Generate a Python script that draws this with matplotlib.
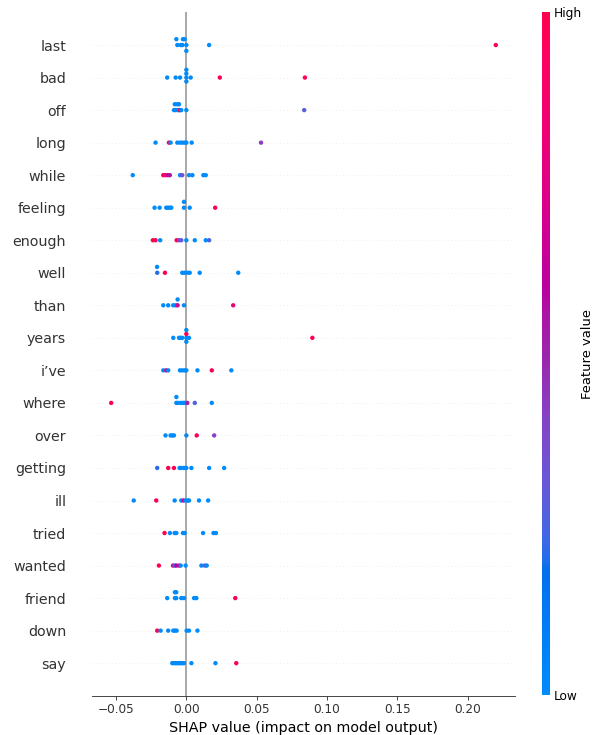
import numpy as np
import matplotlib
matplotlib.use("Agg")
import matplotlib.pyplot as plt
from matplotlib.colors import LinearSegmentedColormap
from matplotlib.cm import ScalarMappable

# ---------------- data ----------------
features = ["last", "bad", "off", "long", "while", "feeling", "enough", "well",
            "than", "years", "i\u2019ve", "where", "over", "getting", "ill",
            "tried", "wanted", "friend", "down", "say"]

# SHAP values (x1000 for readability, scaled below)
shap_last = [-6.4, -7.1, -4.0, -2.8, -2.4, 0.0, -1.2, 0.0, 16.2, 220.0]
fv_last = [0, 0, 0, 0, 0, 0, 0, 0, 0, 1]
shap_bad = [-13.6, -7.6, -4.5, 0.0, 0.0, 0.0, 0.0, 3.1, 23.8, 84.3]
fv_bad = [0, 0, 0, 0, 0, 0, 0, 0, 1, 1]
shap_off = [-8.8, -7.6, -8.2, -6.0, -6.4, -5.0, -5.2, -4.5, -3.6, 0.0, 83.8]
fv_off = [0, 0, 0, 0, 0, 0, 0, 1, 0, 0, 0.28]
shap_long = [-21.9, -12.4, -11.2, -6.4, -4.5, -2.9, -1.2, 0.0, 3.8, 53.1]
fv_long = [0, 1, 0, 0, 0, 0, 0, 0, 0, 0.42]
shap_while = [-38.1, -16.4, -14.8, -13.1, -11.7, -4.5, -2.9, 1.9, 4.3, 12.1, 13.8]
fv_while = [0, 1, 0.85, 0.65, 0.55, 0, 0.35, 0, 0, 0, 0]
shap_feeling = [-22.6, -19.0, -14.3, -13.1, -11.7, -10.7, -1.7, -1.7, 2.4, 20.5]
fv_feeling = [0, 0, 0, 0, 0, 0, 0, 0, 0, 1]
shap_enough = [-23.8, -21.9, -18.6, -6.9, -5.2, -3.6, 0.0, 6.0, 13.8, 16.2]
fv_enough = [1, 1, 0, 1, 0.4, 0.3, 0, 0, 0, 0.25]
shap_well = [-20.7, -20.8, -15.2, -2.9, -1.2, 0.7, 2.4, 9.5, 36.9]
fv_well = [0.2, 0, 1, 0, 0, 0, 0, 0, 0]
shap_than = [-16.4, -12.9, -9.3, -7.6, -6.2, -6.2, -1.7, 33.3]
fv_than = [0, 0, 0, 0, 0.7, 0, 0, 0.85]
shap_years = [-9.3, -5.2, -4.0, -2.9, 0.0, 0.0, 0.0, 0.0, 1.9, 89.6]
fv_years = [0, 0, 0, 0, 0, 1, 0, 0, 0, 1]
shap_ive = [-16.4, -14.3, -12.9, -4.5, -2.9, -1.2, 0.0, 7.9, 18.1, 32.0]
fv_ive = [0, 0.8, 0, 0, 0, 0, 0, 0, 1, 0]
shap_where = [-53.4, -7.1, -7.1, -6.0, -4.0, -2.4, -1.2, 0.7, 6.0, 18.1]
fv_where = [1, 0, 0, 0, 0, 0, 0, 0.5, 0.25, 0]
shap_over = [-14.8, -11.2, -10.0, -8.8, 0.0, 7.4, 19.8]
fv_over = [0, 0, 0, 0, 0, 1, 0.4]
shap_getting = [-20.7, -12.9, -8.8, -4.8, -3.6, -1.7, 0.0, 3.6, 16.2, 26.9]
fv_getting = [0.2, 1, 1, 0, 0, 0, 0, 0, 0, 0]
shap_ill = [-37.4, -21.4, -8.3, -3.6, -2.0, -0.5, 1.0, 1.9, 9.0, 15.5]
fv_ill = [0, 1, 0, 0, 0.7, 0, 0, 0, 0, 0]
shap_tried = [-15.5, -11.7, -8.3, -7.1, -2.4, -1.2, 11.9, 19.3, 21.0]
fv_tried = [1, 0, 0, 0, 0, 0, 0, 0, 0]
shap_wanted = [-19.5, -9.5, -8.3, -7.1, -5.2, -4.0, -0.5, 10.7, 13.1, 14.5]
fv_wanted = [1, 0.8, 0, 0.6, 0.75, 0, 0, 0, 0.3, 0]
shap_friend = [-13.6, -8.1, -8.1, -7.2, -7.2, -3.6, -1.7, 5.5, 7.1, 34.8]
fv_friend = [0, 0, 0, 0, 0, 0, 0, 0, 0, 1]
shap_down = [-20.7, -18.3, -12.9, -9.3, -8.1, -6.9, 0.2, 1.9, 7.9]
fv_down = [1, 0, 0, 0, 0, 0, 0, 0, 0]
shap_say = [-10.0, -8.8, -7.6, -6.4, -5.2, -4.0, -2.9, -1.7, 3.6, 20.7, 35.5]
fv_say = [0, 0, 0, 0, 0, 0, 0, 0, 0, 0, 1]

shap_rows = [shap_last, shap_bad, shap_off, shap_long, shap_while, shap_feeling,
             shap_enough, shap_well, shap_than, shap_years, shap_ive, shap_where,
             shap_over, shap_getting, shap_ill, shap_tried, shap_wanted,
             shap_friend, shap_down, shap_say]
fv_rows = [fv_last, fv_bad, fv_off, fv_long, fv_while, fv_feeling, fv_enough,
           fv_well, fv_than, fv_years, fv_ive, fv_where, fv_over, fv_getting,
           fv_ill, fv_tried, fv_wanted, fv_friend, fv_down, fv_say]

# ---------------- shap red_blue colormap (LCH interpolation) ----------------
def lch2rgb(l, c, h):
    a = c * np.cos(h)
    b = c * np.sin(h)
    fy = (l + 16.0) / 116.0
    fx = fy + a / 500.0
    fz = fy - b / 200.0
    def finv(t):
        return t ** 3 if t ** 3 > 0.008856 else (t - 16.0 / 116.0) / 7.787
    X = 0.95047 * finv(fx)
    Y = 1.0 * finv(fy)
    Z = 1.08883 * finv(fz)
    M = np.array([[3.2404542, -1.5371385, -0.4985314],
                  [-0.9692660, 1.8760108, 0.0415560],
                  [0.0556434, -0.2040259, 1.0572252]])
    rgb = M @ np.array([X, Y, Z])
    out = []
    for v in rgb:
        v = 1.055 * v ** (1 / 2.4) - 0.055 if v > 0.0031308 else 12.92 * v
        out.append(min(max(v, 0.0), 1.0))
    return out

blue_lch = [54., 70., 4.6588]
l_mid = 40.
red_lch = [54., 90., 0.35470565 + 2 * np.pi]
nsteps = 100
l_vals = list(np.linspace(blue_lch[0], l_mid, nsteps // 2)) + \
    list(np.linspace(l_mid, red_lch[0], nsteps // 2))
c_vals = np.linspace(blue_lch[1], red_lch[1], nsteps)
h_vals = np.linspace(blue_lch[2], red_lch[2], nsteps)
cols = [lch2rgb(l, c, h) for l, c, h in zip(l_vals, c_vals, h_vals)]
red_blue = LinearSegmentedColormap.from_list("red_blue", cols)

# ---------------- beeswarm offsets (shap algorithm) ----------------
row_height = 0.4

def swarm(vals, nbins=100):
    vals = np.asarray(vals, float)
    quant = np.round(nbins * (vals - vals.min()) / (vals.max() - vals.min() + 1e-8))
    inds = np.argsort(quant, kind="stable")
    layer = 0
    last_bin = -1
    ys = np.zeros(len(vals))
    for ind in inds:
        if quant[ind] != last_bin:
            layer = 0
        ys[ind] = np.ceil(layer / 2) * ((layer % 2) * 2 - 1)
        layer += 1
        last_bin = quant[ind]
    ys *= 0.9 * (row_height / np.max(ys + 1))
    return ys

# ---------------- plot ----------------
k = 1.055  # scale factor for text / marker sizes
W, H = 602, 735
fig = plt.figure(figsize=(W / 75, H / 75), dpi=75)
ax = fig.add_axes([92 / W, 1 - 695.7 / H, 423 / W, 683.2 / H])

axis_color = "#333333"
ax.axvline(x=0, color="#999999", zorder=-1, lw=1.5 * k)
nf = len(features)
for i, (name, sv, fv) in enumerate(zip(features, shap_rows, fv_rows)):
    pos = nf - 1 - i
    ax.axhline(y=pos, color="#cccccc", lw=0.5 * k, dashes=(1, 5), zorder=-1)
    vals = np.array(sv) / 1000.0
    ys = swarm(vals)
    ax.scatter(vals, pos + ys, c=fv, cmap=red_blue, vmin=0, vmax=1, s=16 * k * k,
               linewidth=0, alpha=1, zorder=3)

ax.set_ylim(-1, nf)
ax.set_yticks(range(nf))
ax.set_yticklabels(features[::-1], fontsize=13 * k)
ax.xaxis.set_ticks_position("bottom")
ax.yaxis.set_ticks_position("none")
for s in ["right", "top", "left"]:
    ax.spines[s].set_visible(False)
ax.spines["bottom"].set_color(axis_color)
ax.spines["bottom"].set_linewidth(0.8 * k)
ax.tick_params(color=axis_color, labelcolor=axis_color)
ax.tick_params("y", length=20 * k, width=0.5, which="major", pad=3.5 * k)
ax.tick_params("x", labelsize=11 * k, length=3.5 * k, width=0.8 * k, pad=3.5 * k)
ax.set_xlabel("SHAP value (impact on model output)", fontsize=13 * k, labelpad=4 * k)

cax = fig.add_axes([541.5 / W, 1 - 695 / H, 8 / W, 683 / H])
sm = ScalarMappable(cmap=red_blue)
sm.set_array([0, 1])
cb = fig.colorbar(sm, cax=cax, ticks=[0, 1])
cb.set_ticklabels(["Low", "High"])
cb.set_label("Feature value", size=12 * k, labelpad=0)
cb.ax.tick_params(labelsize=11 * k, length=0, pad=3.5 * k)
cb.outline.set_visible(False)

fig.savefig("out.png", dpi=75)
